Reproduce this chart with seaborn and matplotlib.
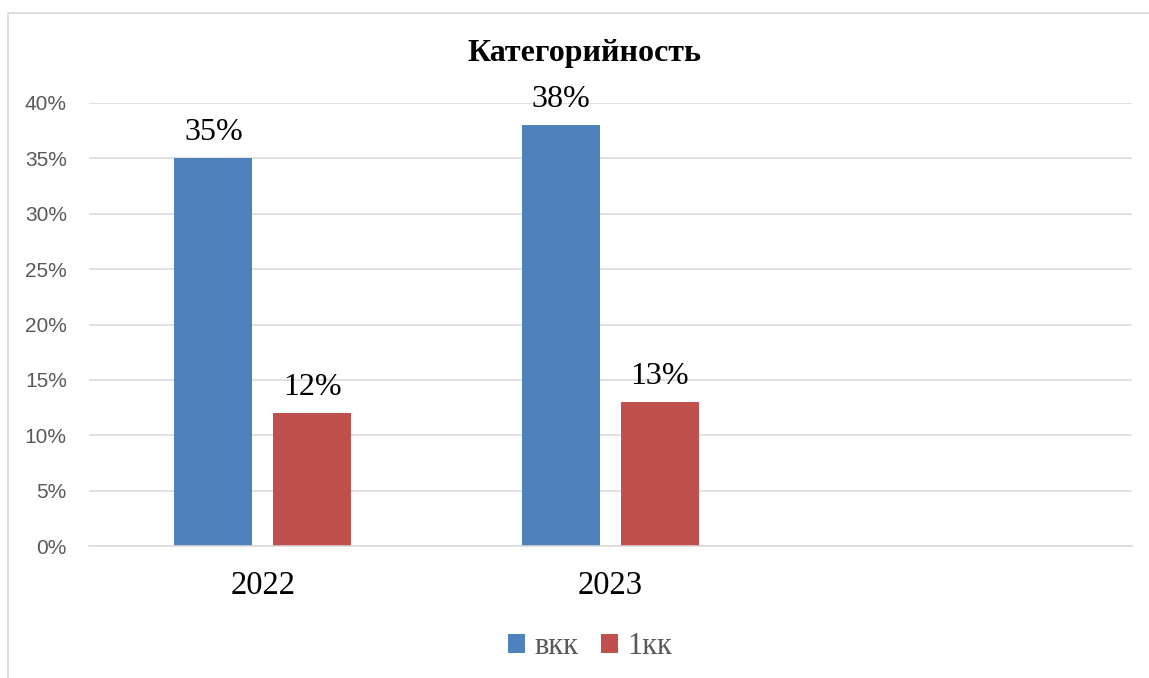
import matplotlib
matplotlib.use("Agg")
import matplotlib.pyplot as plt
import seaborn as sns
import pandas as pd
from matplotlib.patches import Rectangle, Patch
from matplotlib.ticker import PercentFormatter

# Data
years = ["2022", "2023"]
series_names = ["вкк", "1кк"]
vkk = [0.35, 0.38]
kk1 = [0.12, 0.13]
order = years + [" "]  # empty third category slot as in reference
colors = ["#4F81BD", "#C0504D"]
title = "Категорийность"

df = pd.DataFrame({
    "year": years * 2,
    "series": [series_names[0]] * 2 + [series_names[1]] * 2,
    "value": vkk + kk1,
})

sns.set_theme(style="white")
plt.rcParams["font.family"] = ["Liberation Sans", "DejaVu Sans"]
plt.rcParams["text.color"] = "black"

W, H = 1149, 678
fig = plt.figure(figsize=(W / 100, H / 100), dpi=100)
ax = fig.add_axes([89 / W, 1 - 546 / H, (1132 - 89) / W, (546 - 103) / H])

sns.barplot(data=df, x="year", y="value", hue="series", order=order,
            hue_order=series_names, palette=colors, width=0.569, gap=0.21,
            saturation=1, ax=ax, legend=False, errorbar=None, linewidth=0)

ax.set_ylim(0, 0.40)
ax.set_xlim(-0.5, 2.5)
ax.set_yticks([i * 0.05 for i in range(9)])
ax.yaxis.set_major_formatter(PercentFormatter(1.0, decimals=0))
ax.grid(axis="y", color="#d9d9d9", lw=1.1)
ax.set_axisbelow(True)
for s in ["top", "right", "left"]:
    ax.spines[s].set_visible(False)
ax.spines["bottom"].set_color("#d9d9d9")
ax.spines["bottom"].set_linewidth(1.1)
ax.set_xlabel("")
ax.set_ylabel("")
ax.tick_params(axis="y", length=0, pad=16, labelsize=15, labelcolor="#595959")
ax.tick_params(axis="x", length=0, pad=18)
for lbl in ax.get_xticklabels():
    lbl.set_fontfamily("Liberation Serif")
    lbl.set_fontsize(23.5)
    lbl.set_color("black")

for cont in ax.containers:
    ax.bar_label(cont, labels=[f"{v*100:.0f}%" if v == v else "" for v in cont.datavalues],
                 padding=8, fontsize=23, family="Liberation Serif", color="black")

fig.text(585 / W, 1 - 53 / H, title, ha="center", va="center", color="black",
         fontsize=23, fontweight="bold", family="Liberation Serif")

handles = [Patch(facecolor=c, edgecolor="none") for c in colors]
leg = fig.legend(handles, series_names, loc="center", bbox_to_anchor=(590 / W, 1 - 647 / H),
                 ncol=2, frameon=False, handlelength=0.55, handleheight=0.55,
                 handletextpad=0.3, columnspacing=0.75,
                 prop={"family": "Liberation Serif", "size": 22})
for t in leg.get_texts():
    t.set_color("#595959")

fig.add_artist(Rectangle((8 / W, -0.1), 1.2, 1 - 13 / H + 0.1, transform=fig.transFigure,
                         fill=False, edgecolor="#d9d9d9", lw=1.2, zorder=-1))

fig.savefig("out.png", dpi=100)
